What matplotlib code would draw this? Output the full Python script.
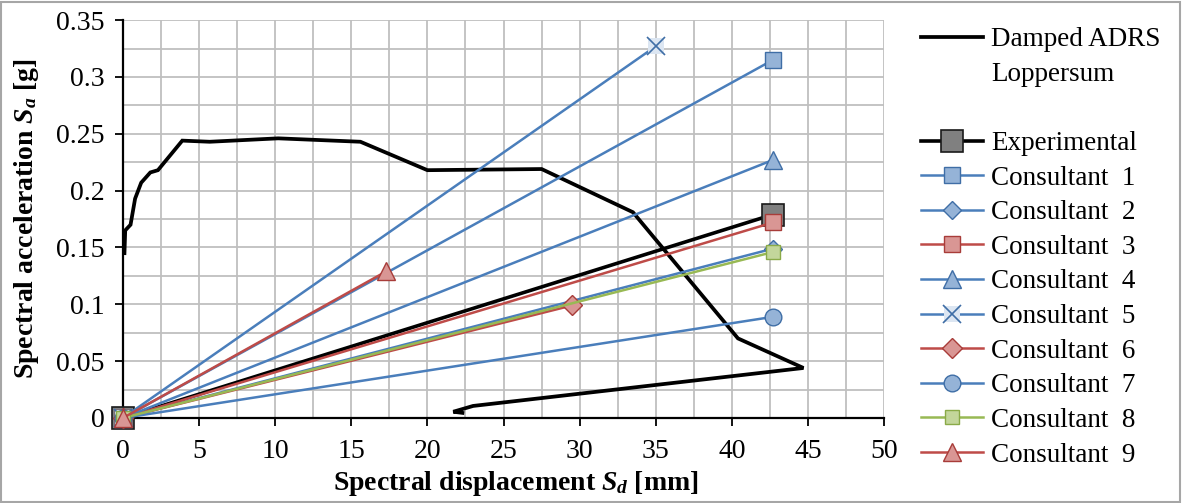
import numpy as np
import matplotlib.pyplot as plt
from matplotlib.lines import Line2D
from matplotlib.legend_handler import HandlerTuple

plt.rcParams['font.family'] = ['Liberation Serif', 'DejaVu Serif']
plt.rcParams['mathtext.fontset'] = 'custom'
plt.rcParams['mathtext.rm'] = 'Liberation Serif:bold'
plt.rcParams['mathtext.it'] = 'Liberation Serif:bold:italic'

# damped ADRS spectrum (Loppersum)
adrs_sd = [0.1, 0.15, 0.5, 0.8, 1.2, 1.8, 2.3, 3.9, 5.7, 10.2, 15.6, 20.0, 27.5,
           33.5, 40.4, 44.7, 23.0, 21.7, 22.3]
adrs_sa = [0.145, 0.165, 0.170, 0.193, 0.207, 0.216, 0.218, 0.244, 0.243, 0.246,
           0.243, 0.218, 0.219, 0.181, 0.070, 0.044, 0.0106, 0.0055, 0.0045]

# end points of the capacity lines, all start at (0, 0)
names = ['Experimental', 'Consultant  1', 'Consultant  2', 'Consultant  3',
         'Consultant  4', 'Consultant  5', 'Consultant  6', 'Consultant  7',
         'Consultant  8', 'Consultant  9']
end_sd = [42.7, 42.7, 42.7, 42.7, 42.7, 35.0, 29.5, 42.7, 42.7, 17.3]
end_sa = [0.179, 0.315, 0.149, 0.172, 0.227, 0.327, 0.099, 0.089, 0.146, 0.129]

blue, blue_f, blue_e = '#4A7EBB', '#95B3D7', '#3F6EA6'
red, red_f, red_e = '#BE4B48', '#D99694', '#A83C39'
green, green_f, green_e = '#98B954', '#C3D69B', '#8AAA48'

styles = [
    dict(color='black', lw=2.6, marker='s', ms=16, mfc='#808080', mec='#1a1a1a', mew=1.2),
    dict(color=blue, lw=1.8, marker='s', ms=11, mfc=blue_f, mec=blue_e, mew=1),
    dict(color=blue, lw=1.8, marker='D', ms=9, mfc=blue_f, mec=blue_e, mew=1),
    dict(color=red, lw=1.8, marker='s', ms=11, mfc=red_f, mec=red_e, mew=1),
    dict(color=blue, lw=1.8, marker='^', ms=13, mfc=blue_f, mec=blue_e, mew=1),
    dict(color=blue, lw=1.8, marker='s', ms=12, mfc='#DCE6F2', mec='#DCE6F2', mew=0),
    dict(color=red, lw=1.8, marker='D', ms=10, mfc=red_f, mec=red_e, mew=1),
    dict(color=blue, lw=1.8, marker='o', ms=12, mfc=blue_f, mec=blue_e, mew=1),
    dict(color=green, lw=1.8, marker='s', ms=10, mfc=green_f, mec=green_e, mew=1),
    dict(color=red, lw=1.8, marker='^', ms=13, mfc=red_f, mec=red_e, mew=1),
]

fig = plt.figure(figsize=(11.82, 5.03), dpi=100)
ax = fig.add_axes([0.104, 0.169, 0.644, 0.791])

h_adrs, = ax.plot(adrs_sd, adrs_sa, color='black', lw=2.7, zorder=3,
                  solid_joinstyle='miter')

handles = []
for i in range(len(names)):
    h, = ax.plot([0, end_sd[i]], [0, end_sa[i]], zorder=4 + i, clip_on=False, **styles[i])
    if i == 5:
        hx, = ax.plot([0, end_sd[i]], [0, end_sa[i]], ls='none', marker='x', ms=13,
                      mew=1.2, color=blue_e, zorder=4 + i, clip_on=False)
        h = (h, hx)
    handles.append(h)

ax.set_xlim(0, 50)
ax.set_ylim(0, 0.35)
ax.set_xticks(np.arange(0, 51, 5))
ax.set_yticks(np.arange(0, 0.351, 0.05))
ax.set_yticklabels(['0', '0.05', '0.1', '0.15', '0.2', '0.25', '0.3', '0.35'])
ax.set_xticks(np.arange(0, 50.1, 2.5), minor=True)
ax.set_yticks(np.arange(0, 0.351, 0.025), minor=True)
ax.grid(True, which='both', color='#BFBFBF', lw=1.3)
ax.set_axisbelow(True)
ax.tick_params(which='major', direction='out', length=6, width=1.3, labelsize=20)
ax.tick_params(axis='x', pad=9)
ax.tick_params(axis='y', pad=7)
ax.tick_params(which='minor', length=0)
for s in ['top', 'right']:
    ax.spines[s].set_visible(False)
for s in ['left', 'bottom']:
    ax.spines[s].set_linewidth(1.6)

ax.set_xlabel('Spectral displacement $S_d$ [mm]', fontsize=20, fontweight='bold')
ax.set_ylabel('Spectral acceleration $S_a$ [g]', fontsize=20, fontweight='bold')
ax.xaxis.set_label_coords(0.516, -0.128)
ax.yaxis.set_label_coords(-0.108, 0.5)

blank = Line2D([], [], ls='none')
leg_handles = [h_adrs, blank, blank] + handles
leg_labels = ['Damped ADRS', 'Loppersum', ' '] + names
leg = fig.legend(leg_handles, leg_labels, loc='upper left', bbox_to_anchor=(0.779, 0.946),
                 frameon=False, fontsize=19.5, handlelength=2.3, handletextpad=0.3,
                 labelspacing=0.355, borderaxespad=0, borderpad=0,
                 handler_map={tuple: HandlerTuple(ndivide=1, pad=0)})

fig.patches.append(plt.Rectangle((0.001, 0.002), 0.997, 0.995, transform=fig.transFigure,
                                 fill=False, edgecolor='#A6A6A6', lw=1.5))

fig.savefig('out.png', dpi=100)
